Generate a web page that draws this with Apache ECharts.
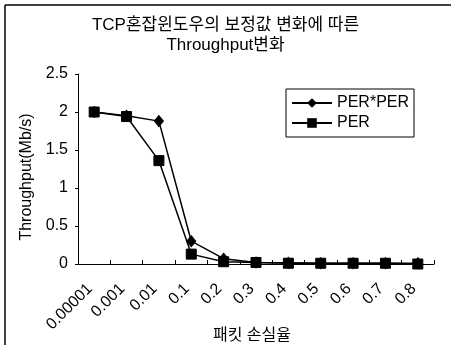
<!DOCTYPE html>
<html>
<head>
<meta charset="utf-8">
<script src="https://cdn.jsdelivr.net/npm/echarts@6/dist/echarts.min.js"></script>
<style>
html,body{margin:0;padding:0;background:#fff;}
#chart{width:451px;height:345px;}
</style>
</head>
<body>
<div id="chart"></div>
<script>
var categories = ['0.00001','0.001','0.01','0.1','0.2','0.3','0.4','0.5','0.6','0.7','0.8'];
var perPer = [2.0, 1.95, 1.88, 0.30, 0.07, 0.02, 0.015, 0.01, 0.01, 0.01, 0.01];
var per = [2.0, 1.94, 1.36, 0.13, 0.03, 0.02, 0.01, 0.01, 0.01, 0.01, 0.0];
var seriesNames = ['PER*PER', 'PER'];
var titleLines = ['TCP혼잡윈도우의 보정값 변화에 따른', 'Throughput변화'];
var xName = '패킷 손실율';
var yName = 'Throughput(Mb/s)';

var FONT = "'Liberation Sans', Arial, 'Noto Sans CJK KR', sans-serif";
var chart = echarts.init(document.getElementById('chart'), null, {renderer: 'canvas'});
chart.setOption({
  animation: false,
  backgroundColor: '#fff',
  title: {
    text: titleLines.join('\n'),
    left: 'center',
    top: 15,
    padding: [0, 0, 0, 8],
    textStyle: {fontFamily: FONT, fontSize: 17, fontWeight: 'normal', color: '#000', lineHeight: 20}
  },
  legend: {
    orient: 'vertical',
    left: 286,
    top: 89,
    padding: [6, 5, 6, 5],
    itemGap: 4,
    itemWidth: 40,
    itemHeight: 12,
    borderColor: '#000',
    borderWidth: 1,
    textStyle: {fontFamily: FONT, fontSize: 16, color: '#000', lineHeight: 16, padding: [0,0,0,0]},
    data: seriesNames
  },
  grid: {left: 78, right: 17, top: 74, bottom: 81, containLabel: false, outerBoundsMode: 'none'},
  xAxis: {
    type: 'category',
    data: categories,
    boundaryGap: true,
    name: xName,
    nameLocation: 'middle',
    nameGap: 64,
    nameMoveOverlap: false,
    nameTextStyle: {fontFamily: FONT, fontSize: 16, color: '#000', padding: [0, 8, 0, 0]},
    axisLine: {lineStyle: {color: '#000', width: 1}},
    axisTick: {show: true, inside: true, length: 4, lineStyle: {color: '#000'}},
    axisLabel: {rotate: 45, margin: 18, padding: [0, 6, 0, 0], fontFamily: FONT, fontSize: 16, color: '#000', interval: 0},
    splitLine: {show: false}
  },
  yAxis: {
    type: 'value',
    min: 0,
    max: 2.5,
    interval: 0.5,
    name: yName,
    nameLocation: 'middle',
    nameGap: 43,
    nameMoveOverlap: false,
    nameTextStyle: {fontFamily: FONT, fontSize: 16, color: '#000', padding: [0, 16, 0, 0]},
    axisLine: {show: true, lineStyle: {color: '#000', width: 1}},
    axisTick: {show: true, length: 3, lineStyle: {color: '#000'}},
    axisLabel: {margin: 10, fontFamily: FONT, fontSize: 16, color: '#000'},
    splitLine: {show: false}
  },
  graphic: [
    {type: 'line', shape: {x1: 5, y1: 5, x2: 451, y2: 5}, style: {stroke: '#000', lineWidth: 1.5}},
    {type: 'line', shape: {x1: 5, y1: 5, x2: 5, y2: 345}, style: {stroke: '#000', lineWidth: 1.5}}
  ],
  series: [
    {
      name: seriesNames[0], type: 'line', data: perPer,
      symbol: 'diamond', symbolSize: [9, 11],
      lineStyle: {color: '#000', width: 1.5},
      itemStyle: {color: '#000', borderColor: '#000'}
    },
    {
      name: seriesNames[1], type: 'line', data: per,
      symbol: 'rect', symbolSize: 10,
      lineStyle: {color: '#000', width: 1.5},
      itemStyle: {color: '#000', borderColor: '#000'}
    }
  ]
});
</script>
</body>
</html>
